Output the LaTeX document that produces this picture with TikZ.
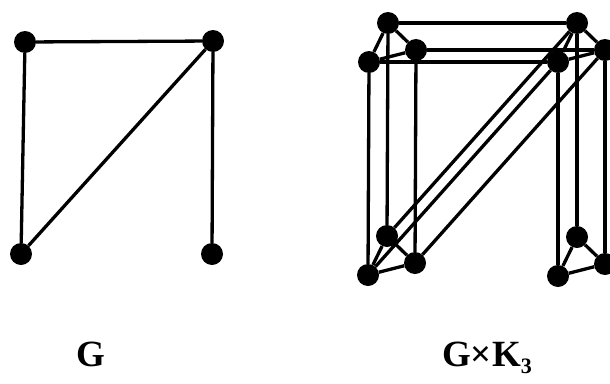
\documentclass[tikz,border=0pt]{standalone}
\usepackage{fontspec}
\setmainfont{Liberation Serif}
\usetikzlibrary{positioning}

\begin{document}
\begin{tikzpicture}[
  x=1pt, y=-1pt,
  dot/.style={circle, fill, inner sep=0pt, minimum size=22pt},
  link/.style={line width=3.3pt},
  caption/.style={font=\fontsize{37}{40}\selectfont\bfseries, anchor=base west, inner sep=0pt}
]
\useasboundingbox (0,0) rectangle (610,383);

% the graph G
\node[dot] (tl) at (25,42) {};
\node[dot] (tr) at (213,41) {};
\node[dot] (bl) at (21,254) {};
\node[dot] (br) at (212,254) {};

\draw[link] (tl) -- (tr);
\draw[link] (tl) -- (bl);
\draw[link] (tr) -- (bl);
\draw[link] (tr) -- (br);

% G x K3: one copy of G per vertex of K3
\foreach \k/\dx/\dy in {a/0/0, b/-19/39, c/28/27} {
  \node[dot] (\k-tl) at (388+\dx,23+\dy) {};
  \node[dot] (\k-tr) at (577+\dx,23+\dy) {};
  \node[dot] (\k-bl) at (387+\dx,236+\dy) {};
  \node[dot] (\k-br) at (577+\dx,237+\dy) {};
  \draw[link] (\k-tl) -- (\k-tr);
  \draw[link] (\k-tl) -- (\k-bl);
  \draw[link] (\k-tr) -- (\k-bl);
  \draw[link] (\k-tr) -- (\k-br);
}
% a triangle K3 at each vertex of G
\foreach \v in {tl, tr, bl, br} {
  \draw[link] (a-\v) -- (b-\v) -- (c-\v) -- (a-\v);
}

\node[caption] (g) at (76,366) {G};
\node[caption] (gk) at (442,366) {G×K\raisebox{-7pt}{\fontsize{22}{24}\selectfont 3}};

\end{tikzpicture}
\end{document}
